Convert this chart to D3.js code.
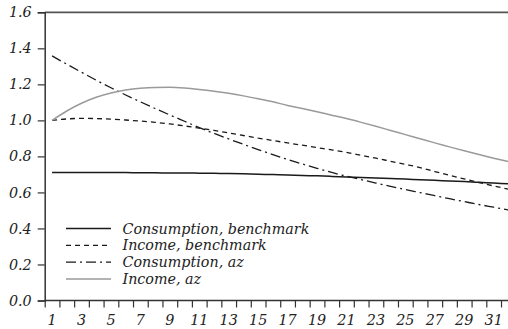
<!DOCTYPE html>
<html>
<head>
<meta charset="utf-8">
<script src="https://cdn.jsdelivr.net/npm/d3@7"></script>
<style>
  html, body { margin: 0; padding: 0; background: #fff; }
  svg { display: block; }
  svg text { font-family: "DejaVu Serif", serif !important; font-style: italic !important; fill: #222; }
</style>
</head>
<body>
<svg id="chart" width="508" height="329"></svg>
<script>
// Periods on the horizontal axis
const periods = d3.range(1, 33);

// Series values by period
const consumptionBenchmark = [0.710, 0.710, 0.710, 0.710, 0.710, 0.710, 0.709, 0.709, 0.708, 0.708,
  0.707, 0.706, 0.705, 0.703, 0.701, 0.699, 0.697, 0.694, 0.692, 0.689,
  0.686, 0.683, 0.680, 0.677, 0.674, 0.670, 0.667, 0.663, 0.660, 0.656, 0.652, 0.648];
const incomeBenchmark = [1.000, 1.008, 1.011, 1.010, 1.007, 1.002, 0.996, 0.989, 0.980, 0.969,
  0.957, 0.944, 0.930, 0.916, 0.902, 0.888, 0.875, 0.862, 0.849, 0.836,
  0.822, 0.806, 0.790, 0.773, 0.756, 0.738, 0.716, 0.695, 0.675, 0.655, 0.636, 0.618];
const consumptionAz = [1.358, 1.312, 1.267, 1.223, 1.181, 1.141, 1.103, 1.066, 1.030, 0.995,
  0.960, 0.928, 0.897, 0.867, 0.838, 0.810, 0.783, 0.758, 0.734, 0.711,
  0.690, 0.671, 0.652, 0.634, 0.616, 0.599, 0.582, 0.565, 0.549, 0.533, 0.518, 0.503];
const incomeAz = [1.000, 1.052, 1.095, 1.128, 1.152, 1.168, 1.178, 1.183, 1.184, 1.180,
  1.172, 1.162, 1.150, 1.136, 1.120, 1.103, 1.083, 1.066, 1.048, 1.029,
  1.010, 0.989, 0.967, 0.944, 0.921, 0.898, 0.875, 0.853, 0.831, 0.810, 0.790, 0.771];

// Tick labels
const yTicks = [0.0, 0.2, 0.4, 0.6, 0.8, 1.0, 1.2, 1.4, 1.6];
const xLabels = d3.range(1, 32, 2);

const seriesNames = ["Consumption, benchmark", "Income, benchmark", "Consumption, az", "Income, az"];

const series = [
  { name: seriesNames[0], values: consumptionBenchmark, stroke: "#1a1a1a", width: 1.5, dash: null },
  { name: seriesNames[1], values: incomeBenchmark, stroke: "#1a1a1a", width: 1.3, dash: "5,4" },
  { name: seriesNames[2], values: consumptionAz, stroke: "#1a1a1a", width: 1.3, dash: "10,4,2,4" },
  { name: seriesNames[3], values: incomeAz, stroke: "#9a9a9a", width: 1.5, dash: null }
];

const svg = d3.select("#chart");
const W = 508, H = 329;
const plotLeft = 44.7, plotTop = 12.3, plotBottom = 300.5;
const step = 14.72;
const fontSize = 14.3;

const x = d3.scaleLinear().domain([0.5, 32.5]).range([plotLeft, plotLeft + 32 * step]);
const y = d3.scaleLinear().domain([0, 1.6]).range([plotBottom, plotTop]);

svg.append("defs").append("clipPath").attr("id", "plotclip")
  .append("rect").attr("x", plotLeft).attr("y", plotTop - 2)
  .attr("width", W - plotLeft).attr("height", plotBottom - plotTop + 4);

// Frame top line
svg.append("line")
  .attr("x1", plotLeft).attr("x2", W).attr("y1", plotTop).attr("y2", plotTop)
  .attr("stroke", "#555").attr("stroke-width", 1.8);

// Left axis
const yAxis = d3.axisLeft(y).tickValues(yTicks).tickSize(7).tickPadding(6)
  .tickFormat(d3.format(".1f"));
const gy = svg.append("g").attr("transform", `translate(${plotLeft},0)`).call(yAxis);
gy.attr("font-family", null).attr("font-size", null);
gy.select(".domain").attr("stroke", "#333").attr("stroke-width", 1.5);
gy.selectAll(".tick line").attr("stroke", "#333").attr("stroke-width", 1.2);
gy.selectAll(".tick text").attr("font-size", fontSize).attr("font-style", "italic").attr("fill", "#222");

// Bottom axis: tick marks between periods, labels on odd periods
const xAxisTicks = d3.axisBottom(x).tickValues(d3.range(0.5, 32, 1)).tickSize(7).tickFormat("");
const gx = svg.append("g").attr("transform", `translate(0,${plotBottom})`).call(xAxisTicks);
gx.select(".domain").remove();
gx.selectAll(".tick line").attr("stroke", "#333").attr("stroke-width", 1.2);
svg.append("line")
  .attr("x1", plotLeft).attr("x2", W).attr("y1", plotBottom).attr("y2", plotBottom)
  .attr("stroke", "#333").attr("stroke-width", 1.5);

svg.append("g").selectAll("text").data(xLabels).join("text")
  .attr("x", d => x(d)).attr("y", 324.5)
  .attr("text-anchor", "middle").attr("font-size", fontSize).attr("font-style", "italic")
  .text(d => d);

// Series lines
const line = d3.line().x((d, i) => x(periods[i])).y(d => y(d)).curve(d3.curveMonotoneX);
const plot = svg.append("g").attr("clip-path", "url(#plotclip)");
plot.selectAll("path").data(series).join("path")
  .attr("d", d => line(d.values))
  .attr("fill", "none")
  .attr("stroke", d => d.stroke)
  .attr("stroke-width", d => d.width)
  .attr("stroke-dasharray", d => d.dash);

// Legend
const legend = svg.append("g");
const rowY = [228.5, 245.3, 262.1, 278.9];
series.forEach((s, i) => {
  legend.append("line")
    .attr("x1", 66).attr("x2", 111).attr("y1", rowY[i]).attr("y2", rowY[i])
    .attr("stroke", s.stroke).attr("stroke-width", s.width)
    .attr("stroke-dasharray", s.dash);
  legend.append("text")
    .attr("x", 122.5).attr("y", rowY[i]).attr("dy", "0.35em")
    .attr("font-size", fontSize).attr("font-style", "italic").text(s.name);
});
</script>
</body>
</html>
